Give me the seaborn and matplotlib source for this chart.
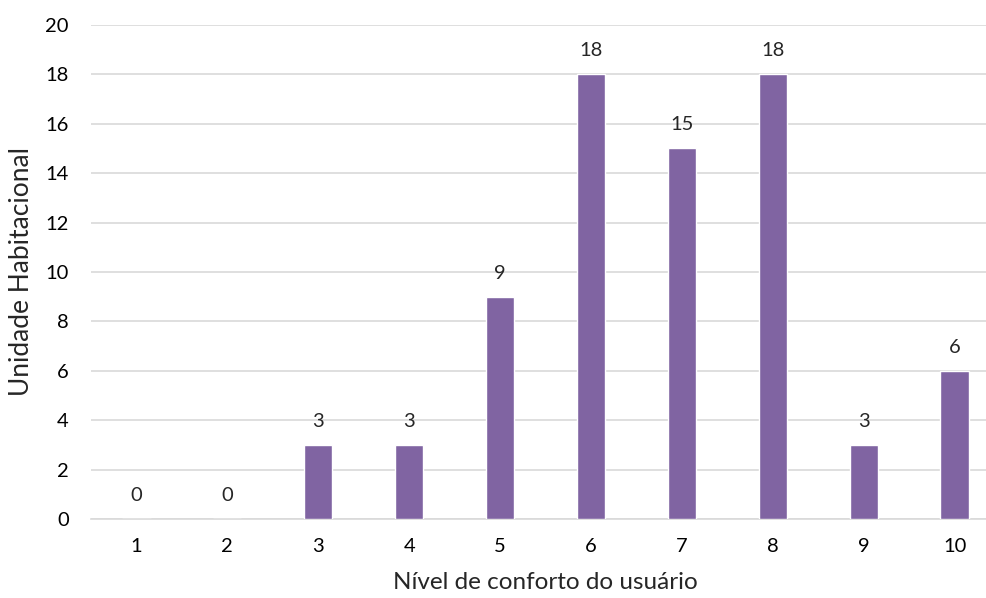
import matplotlib
matplotlib.use("Agg")
import matplotlib.pyplot as plt
import seaborn as sns
import pandas as pd

# Comfort level ratings and number of housing units per level
niveis = ["1", "2", "3", "4", "5", "6", "7", "8", "9", "10"]
unidades = [0, 0, 3, 3, 9, 18, 15, 18, 3, 6]
y_ticks = [0, 2, 4, 6, 8, 10, 12, 14, 16, 18, 20]

df = pd.DataFrame({"nivel": niveis, "unidades": unidades})

sns.set_theme(style="white")
plt.rcParams["font.family"] = ["Lato", "DejaVu Sans"]

fig = plt.figure(figsize=(9.87, 5.98), dpi=100)
# plot area runs past the right edge of the canvas
ax = fig.add_axes([91 / 987, 79 / 598, 909 / 987, 494 / 598])

sns.barplot(data=df, x="nivel", y="unidades", color="#8064A2", width=0.31,
            saturation=1, ax=ax, zorder=3)

ax.set_ylim(0, 20)
ax.set_xlim(-0.5, len(niveis) - 0.5)
ax.set_yticks(y_ticks)
ax.yaxis.grid(True, color="#D9D9D9", linewidth=1.2, zorder=0)
ax.set_axisbelow(True)
for s in ["top", "right", "left"]:
    ax.spines[s].set_visible(False)
ax.spines["bottom"].set_color("#D9D9D9")
ax.spines["bottom"].set_linewidth(1.2)
ax.tick_params(axis="both", length=0, labelsize=14.5, colors="#000000")
ax.tick_params(axis="x", pad=14)
ax.tick_params(axis="y", pad=16)

for i, v in enumerate(unidades):
    ax.annotate(str(v), (i, v), xytext=(0, 13), textcoords="offset points",
                ha="center", va="baseline", fontsize=14.5)

ax.set_xlabel("Nível de conforto do usuário", fontsize=17.5, labelpad=12)
ax.set_ylabel("Unidade Habitacional", fontsize=19, labelpad=8)

fig.savefig("out.png", dpi=100)
